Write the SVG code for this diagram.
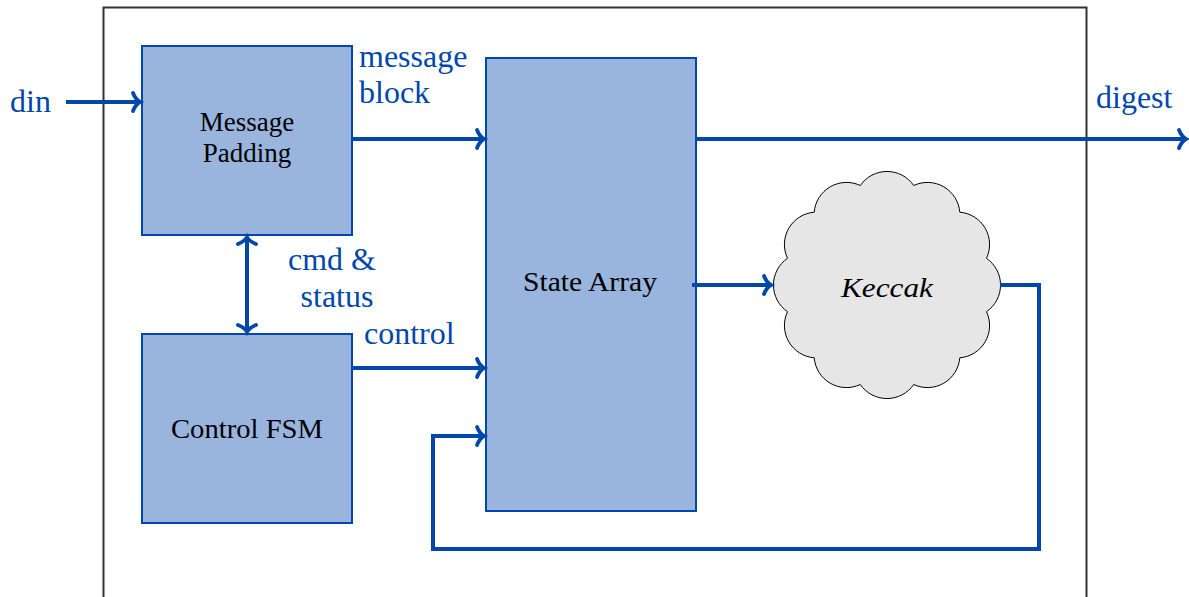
<svg xmlns="http://www.w3.org/2000/svg" width="1189" height="597" viewBox="0 0 1189 597">
  <style>
    .blk { fill: #99B5DD; stroke: #0047AB; stroke-width: 2; }
    .ntxt { font-family: "Liberation Serif", "DejaVu Serif", serif; font-size: 27px; fill: #000; text-anchor: middle; }
    .lbl { font-family: "Liberation Serif", "DejaVu Serif", serif; font-size: 32px; fill: #0047AB; }
    .wire { fill: none; stroke: #0047AB; stroke-width: 4; }
  </style>
  <defs>
    <marker id="arr" markerUnits="userSpaceOnUse" viewBox="-12 -12 16 24" refX="0" refY="0" markerWidth="16" markerHeight="24" orient="auto-start-reverse" overflow="visible">
      <path d="M -7 -9 C -5 -4 -2 -1 0 0 C -2 1 -5 4 -7 9" fill="none" stroke="#0047AB" stroke-width="3.8" stroke-linecap="round"/>
    </marker>
  </defs>
  <rect width="1189" height="597" fill="#fff"/>
  <rect id="frame" x="103.5" y="7.5" width="983" height="600" fill="none" stroke="#333" stroke-width="2"/>

  <g id="padding">
    <rect class="blk" x="142" y="46" width="210" height="189"/>
    <text class="ntxt" x="247" y="131">Message</text>
    <text class="ntxt" x="247" y="162">Padding</text>
  </g>
  <g id="fsm">
    <rect class="blk" x="142" y="334" width="210" height="189"/>
    <text class="ntxt" x="247" y="438" textLength="152" lengthAdjust="spacingAndGlyphs">Control FSM</text>
  </g>
  <g id="state">
    <rect class="blk" x="486" y="58" width="210" height="453"/>
    <text class="ntxt" x="590" y="291" textLength="134" lengthAdjust="spacingAndGlyphs">State Array</text>
  </g>
  <g id="keccak">
    <path d="M 986.5 311.7 A 32.4 32.4 0 0 1 959.8 357.8 A 32.4 32.4 0 0 1 913.7 384.5 A 32.4 32.4 0 0 1 860.3 384.5 A 32.4 32.4 0 0 1 814.2 357.8 A 32.4 32.4 0 0 1 787.5 311.7 A 32.4 32.4 0 0 1 787.5 258.3 A 32.4 32.4 0 0 1 814.2 212.2 A 32.4 32.4 0 0 1 860.3 185.5 A 32.4 32.4 0 0 1 913.7 185.5 A 32.4 32.4 0 0 1 959.8 212.2 A 32.4 32.4 0 0 1 986.5 258.3 A 32.4 32.4 0 0 1 986.5 311.7 Z" fill="#E6E6E6" stroke="#000" stroke-width="1"/>
    <text class="ntxt" x="887" y="297" font-style="italic" font-size="31" textLength="92" lengthAdjust="spacingAndGlyphs">Keccak</text>
  </g>

  <g id="connectors">
    <line class="wire" x1="66" y1="102" x2="140" y2="102" marker-end="url(#arr)"/>
    <line class="wire" x1="352" y1="139" x2="484" y2="139" marker-end="url(#arr)"/>
    <line class="wire" x1="696" y1="139" x2="1186" y2="139" marker-end="url(#arr)"/>
    <line class="wire" x1="692" y1="285" x2="771" y2="285" marker-end="url(#arr)"/>
    <line class="wire" x1="352" y1="368" x2="484" y2="368" marker-end="url(#arr)"/>
    <line class="wire" x1="247" y1="237" x2="247" y2="332" marker-start="url(#arr)" marker-end="url(#arr)"/>
    <polyline class="wire" points="1000,285 1039,285 1039,549 433,549 433,436 484,436" marker-end="url(#arr)"/>
  </g>

  <g id="labels">
    <text class="lbl" x="10" y="112">din</text>
    <text class="lbl" x="359" y="67">message</text>
    <text class="lbl" x="359" y="103">block</text>
    <text class="lbl" x="1096" y="108">digest</text>
    <text class="lbl" x="332" y="270" text-anchor="middle">cmd &amp;</text>
    <text class="lbl" x="337" y="307" text-anchor="middle">status</text>
    <text class="lbl" x="364" y="344">control</text>
  </g>
</svg>
